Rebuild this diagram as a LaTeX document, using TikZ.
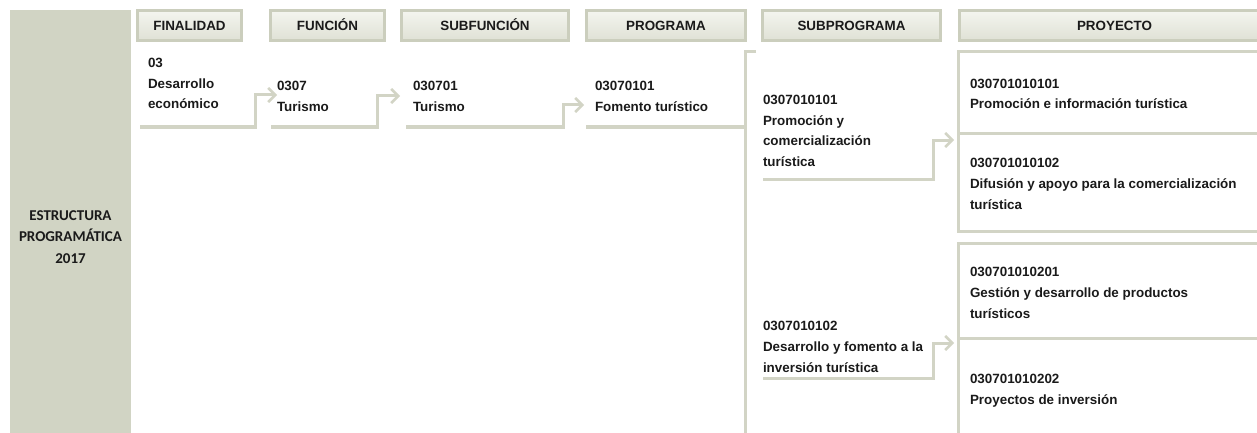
\documentclass[tikz,border=0pt]{standalone}
\usepackage{fontspec}
\setmainfont{Liberation Sans}
\newfontfamily\calibrifont{Carlito}
\usetikzlibrary{arrows.meta}
\definecolor{panelc}{HTML}{D1D4C4}
\definecolor{linec}{HTML}{D2D4C5}
\definecolor{hdrtop}{HTML}{F4F5EF}
\definecolor{hdrbot}{HTML}{DFE1D5}
\definecolor{hdredge}{HTML}{CBCEBD}
\definecolor{txt}{HTML}{1A1A1A}
\begin{document}
\begin{tikzpicture}[x=1pt,y=-1pt,
  hdr/.style={draw=hdredge, line width=3pt, top color=hdrtop, bottom color=hdrbot,
    anchor=north west, inner sep=0pt, outer sep=0pt, minimum height=30pt,
    text height=9.6pt, text depth=0pt,
    font=\bfseries\fontsize{13.4}{15}\selectfont, text=txt},
  item/.style={anchor=base west, align=left, inner sep=0pt, outer sep=0pt,
    font=\bfseries\fontsize{13.4}{20.7}\selectfont, text=txt},
  conn/.style={draw=linec, line width=3pt},
  arr/.style={conn, -{Straight Barb[length=7pt,width=14pt,line width=2.6pt]}}
]
\useasboundingbox (0,0) rectangle (1257,433);
% side panel
\node[fill=panelc, anchor=north west, minimum width=121pt, minimum height=423pt, inner sep=0pt, outer sep=0pt] (panel) at (10,10) {};
\node[align=center, font=\calibrifont\bfseries\fontsize{15}{21.5}\selectfont, text=txt, anchor=base] (paneltxt) at (70.5,263) {ESTRUCTURA\\PROGRAMÁTICA\\2017};
% headers
\node[hdr, minimum width=104pt] (hfin) at (137.5,10.5) {FINALIDAD};
\node[hdr, minimum width=114pt] (hfun) at (270.5,10.5) {FUNCIÓN};
\node[hdr, minimum width=167pt] (hsubf) at (401.5,10.5) {SUBFUNCIÓN};
\node[hdr, minimum width=159pt] (hprog) at (586.5,10.5) {PROGRAMA};
\node[hdr, minimum width=178pt] (hsubp) at (762.5,10.5) {SUBPROGRAMA};
\node[hdr, minimum width=310pt, text width=296pt, align=center] (hproy) at (959.5,10.5) {PROYECTO};
% items (anchor = baseline of last line)
\node[item] (fin) at (148,109) {03\\Desarrollo\\económico};
\node[item] (fun) at (277,111) {0307\\Turismo};
\node[item] (subf) at (413,111) {030701\\Turismo};
\node[item] (prog) at (595,111) {03070101\\Fomento turístico};
\node[item] (sp1) at (763,166.5) {0307010101\\Promoción y\\comercialización\\turística};
\node[item] (sp2) at (763,372) {0307010102\\Desarrollo y fomento a la\\inversión turística};
\node[item] (p1) at (970,109) {030701010101\\Promoción e información turística};
\node[item] (p2) at (970,209) {030701010102\\Difusión y apoyo para la comercialización\\turística};
\node[item] (p3) at (970,318) {030701010201\\Gestión y desarrollo de productos\\turísticos};
\node[item] (p4) at (970,404.5) {030701010202\\Proyectos de inversión};
% connector coordinates
\coordinate (finS) at (140,127);
\coordinate (funIn) at (277,95);
\coordinate (funS) at (271,127);
\coordinate (subfIn) at (400,96);
\coordinate (subfS) at (406,127);
\coordinate (progIn) at (584,105);
\coordinate (progS) at (586,127);
\coordinate (busTop) at (756,52);
\coordinate (busBot) at (745,440);
\coordinate (sp1S) at (763,179);
\coordinate (sp1Out) at (954,140);
\coordinate (sp2S) at (763,378);
\coordinate (sp2Out) at (954,343);
% connectors
\draw[arr] (finS) -- (255,127) |- (funIn);
\draw[arr] (funS) -- (377,127) |- (subfIn);
\draw[arr] (subfS) -- (563,127) |- (progIn);
\draw[conn] (progS) -- (746.5,127);
\draw[conn] (busTop) -| (busBot);
\draw[arr] (sp1S) -- (933,179) |- (sp1Out);
\draw[arr] (sp2S) -- (933,378) |- (sp2Out);
% project boxes
\draw[conn] (1265,52) -- (958,52) -- (958,231) -- (1265,231);
\draw[conn] (958,133) -- (1265,133);
\draw[conn] (1265,243) -- (958,243) -- (958,440);
\draw[conn] (958,338) -- (1265,338);
\end{tikzpicture}
\end{document}
